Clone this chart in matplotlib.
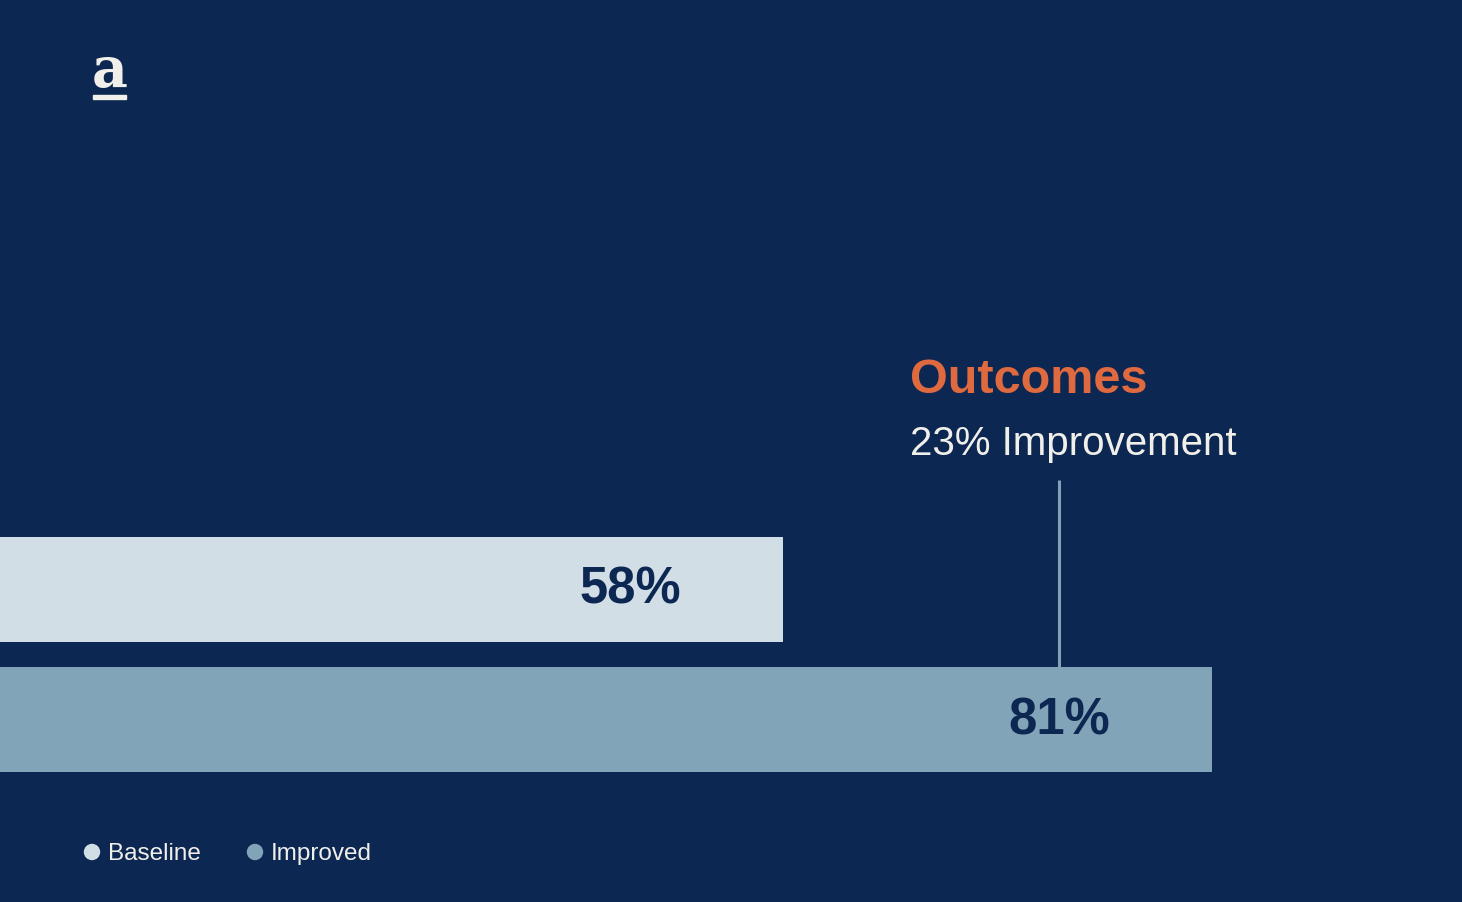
import matplotlib
matplotlib.use("Agg")
import matplotlib.pyplot as plt
import matplotlib.transforms as mtransforms
from matplotlib.patches import Circle, Rectangle

# ---- data ----
categories = ["Baseline", "Improved"]
values = [58, 81]
value_labels = ["58%", "81%"]
title_text = "Outcomes"
subtitle_text = "23% Improvement"
logo_text = "a"

# ---- styles ----
BG = "#0C2752"
BAR_COLORS = ["#D1DEE6", "#82A4B8"]
ORANGE = "#E06A3F"
OFFWHITE = "#F1EFEA"
LINE_COLOR = "#7FA2B7"
FONT = ["Liberation Sans", "DejaVu Sans"]

W, H = 1462, 902
fig = plt.figure(figsize=(W / 100, H / 100), dpi=100)
fig.patch.set_facecolor(BG)

ax = fig.add_axes([0, 0, 1, 1])
ax.set_facecolor(BG)
ax.set_xlim(16.02, 94.40)
ax.set_ylim(2.395, -4.517)
ax.axis("off")

ypos = list(range(len(categories)))
ax.barh(ypos, values, height=0.805, color=BAR_COLORS, left=0)

for y, v, lab in zip(ypos, values, value_labels):
    ax.annotate(lab, xy=(v, y), xytext=(-102, -1), textcoords="offset pixels",
                ha="right", va="center", fontsize=36.5, fontweight="bold",
                color=BG, family=FONT)

# connector line above the improved bar, centred on its label
tr = mtransforms.offset_copy(ax.transData, fig=fig, x=-153, y=0, units="dots")
y_top_bar = ypos[1] - 0.805 / 2
ax.plot([values[1], values[1]], [y_top_bar, y_top_bar - 187 / 130.5],
        transform=tr, color=LINE_COLOR, lw=2.2, solid_capstyle="butt")

def fx(px):
    return px / W

def fy(py):
    return 1 - py / H

fig.text(fx(910), fy(393), title_text, color=ORANGE, fontsize=35,
         fontweight="bold", family=FONT, ha="left", va="baseline")
fig.text(fx(910), fy(455), subtitle_text, color=OFFWHITE, fontsize=29,
         family=FONT, ha="left", va="baseline")

# logo
fig.text(fx(109.5), fy(87), logo_text, color=OFFWHITE, fontsize=40,
         fontweight="bold", family=["DejaVu Serif"], ha="center", va="baseline")
fig.patches.append(Rectangle((fx(93), fy(99)), fx(33), 4 / H,
                             transform=fig.transFigure, color=OFFWHITE))

# legend
leg_x = [92, 255]
for x, c, name in zip(leg_x, BAR_COLORS, categories):
    fig.patches.append(Circle((x, H - 852), 7.5, transform=None, color=c))
    fig.text(fx(x + 16), fy(860), name, color=OFFWHITE, fontsize=17.5,
             family=FONT, ha="left", va="baseline")

fig.savefig("out.png", dpi=100, facecolor=BG)
